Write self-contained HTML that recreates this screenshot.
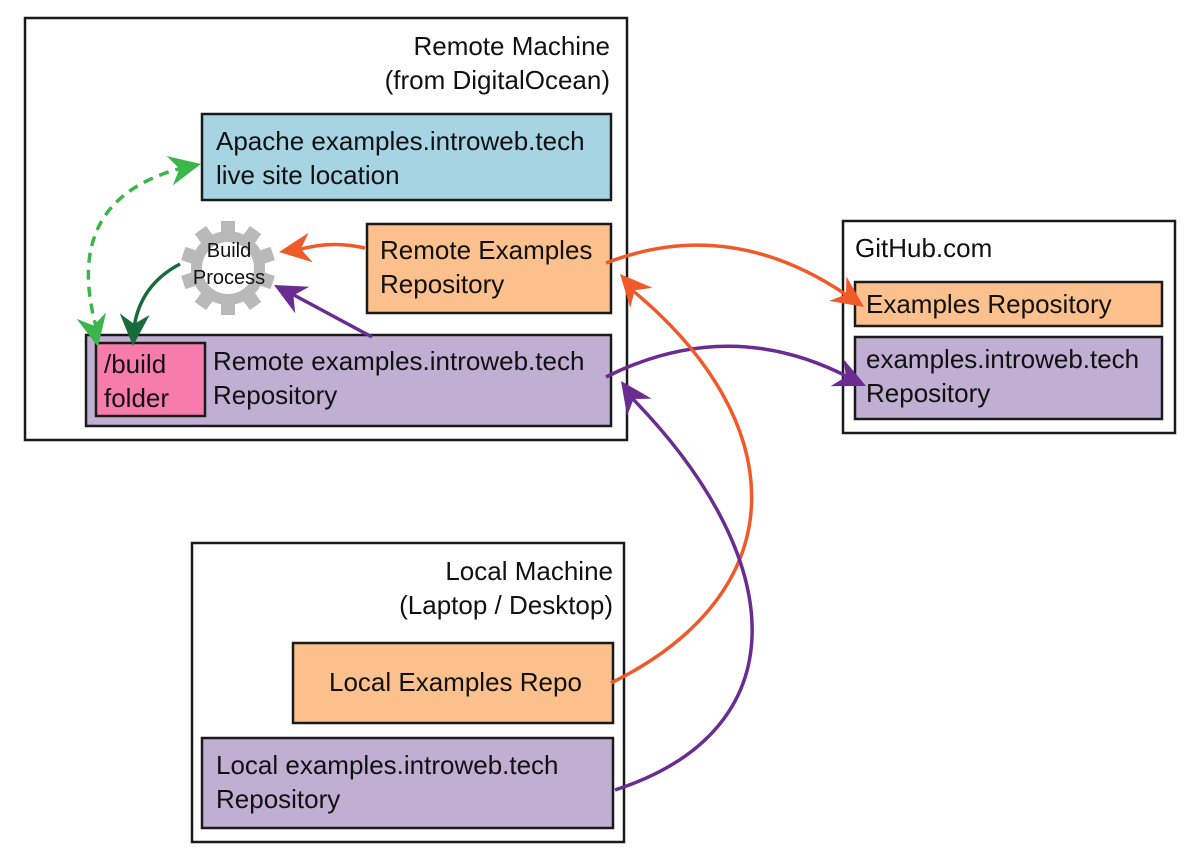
<!DOCTYPE html>
<html><head><meta charset="utf-8"><style>
body{margin:0;background:#fff;}
svg{display:block;font-family:"Liberation Sans",sans-serif;}
</style></head><body>
<svg width="1200" height="860" viewBox="0 0 1200 860">
<defs>
<polygon id="ah" points="0,0 -32,-15 -22,0 -32,15"/>
<rect id="t" x="-7" y="-47" width="14" height="16"/>
</defs>
<g stroke="#1a1a1a" stroke-width="2.5">
<rect x="25" y="18" width="602" height="422" fill="#fff"/>
<rect x="843" y="221" width="332" height="212" fill="#fff"/>
<rect x="192" y="543" width="432" height="299" fill="#fff"/>
<rect x="202" y="114" width="409" height="86" fill="#a6d4e3"/>
<rect x="367" y="224" width="244" height="89" fill="#fbc08b"/>
<rect x="86" y="335" width="525" height="91" fill="#c0aed3"/>
<rect x="96" y="343" width="109" height="73" fill="#f77cac"/>
<rect x="855" y="282" width="307" height="44" fill="#fbc08b"/>
<rect x="855" y="337" width="307" height="82" fill="#c0aed3"/>
<rect x="293" y="643" width="320" height="80" fill="#fbc08b"/>
<rect x="202" y="738" width="411" height="90" fill="#c0aed3"/>
</g>
<g font-size="26" fill="#111">
<text x="610" y="55" text-anchor="end">Remote Machine</text>
<text x="610" y="89" text-anchor="end">(from DigitalOcean)</text>
<text x="216" y="150">Apache examples.introweb.tech</text>
<text x="216" y="184">live site location</text>
<text x="380" y="259">Remote Examples</text>
<text x="380" y="293">Repository</text>
<text x="104" y="373">/build</text>
<text x="104" y="407">folder</text>
<text x="213" y="370">Remote examples.introweb.tech</text>
<text x="213" y="404">Repository</text>
<text x="855" y="257">GitHub.com</text>
<text x="866" y="313">Examples Repository</text>
<text x="866" y="368">examples.introweb.tech</text>
<text x="866" y="402">Repository</text>
<text x="613" y="580" text-anchor="end">Local Machine</text>
<text x="613" y="614" text-anchor="end">(Laptop / Desktop)</text>
<text x="329" y="691">Local Examples Repo</text>
<text x="216" y="774">Local examples.introweb.tech</text>
<text x="216" y="808">Repository</text>
</g>
<!-- gear -->
<g transform="translate(228,268)" fill="#b9b9b9">
<circle r="37"/>
<use href="#t"/>
<use href="#t" transform="rotate(36)"/><use href="#t" transform="rotate(72)"/><use href="#t" transform="rotate(108)"/><use href="#t" transform="rotate(144)"/><use href="#t" transform="rotate(180)"/><use href="#t" transform="rotate(216)"/><use href="#t" transform="rotate(252)"/><use href="#t" transform="rotate(288)"/><use href="#t" transform="rotate(324)"/>
<circle r="26" fill="#fff"/>
</g>
<text x="229" y="257" style="font-size:20px" text-anchor="middle" fill="#111">Build</text>
<text x="229" y="284" style="font-size:20px" text-anchor="middle" fill="#111">Process</text>
<!-- connectors -->
<g fill="none" stroke-width="3.5">
<path d="M365,248 Q330,240 298,250" stroke="#f05a28"/>
<path d="M372,337 L292,294" stroke="#6a2c91"/>
<path d="M180,264 Q140,285 134,328" stroke="#1a6b3a"/>
<path d="M97,330 Q60,200 182,168" stroke="#3cb54a" stroke-dasharray="10,7"/>
<path d="M606,263 Q730,215 848,296" stroke="#f05a28"/>
<path d="M606,377 Q730,315 850,378" stroke="#6a2c91"/>
<path d="M611,683 C800,590 790,420 632,290" stroke="#f05a28"/>
<path d="M615,790 C800,730 790,560 632,398" stroke="#6a2c91"/>
</g>
<g>
<use href="#ah" fill="#f05a28" transform="translate(279,252) rotate(172)"/>
<use href="#ah" fill="#6a2c91" transform="translate(274,285) rotate(208)"/>
<use href="#ah" fill="#1a6b3a" transform="translate(133,346) rotate(93)"/>
<use href="#ah" fill="#3cb54a" transform="translate(201,164) rotate(-12)"/>
<use href="#ah" fill="#3cb54a" transform="translate(98,347) rotate(78)"/>
<use href="#ah" fill="#f05a28" transform="translate(864,307) rotate(35)"/>
<use href="#ah" fill="#6a2c91" transform="translate(866,386) rotate(25)"/>
<use href="#ah" fill="#f05a28" transform="translate(620,274) rotate(228)"/>
<use href="#ah" fill="#6a2c91" transform="translate(621,381) rotate(235)"/>
</g>
</svg>
</body></html>
